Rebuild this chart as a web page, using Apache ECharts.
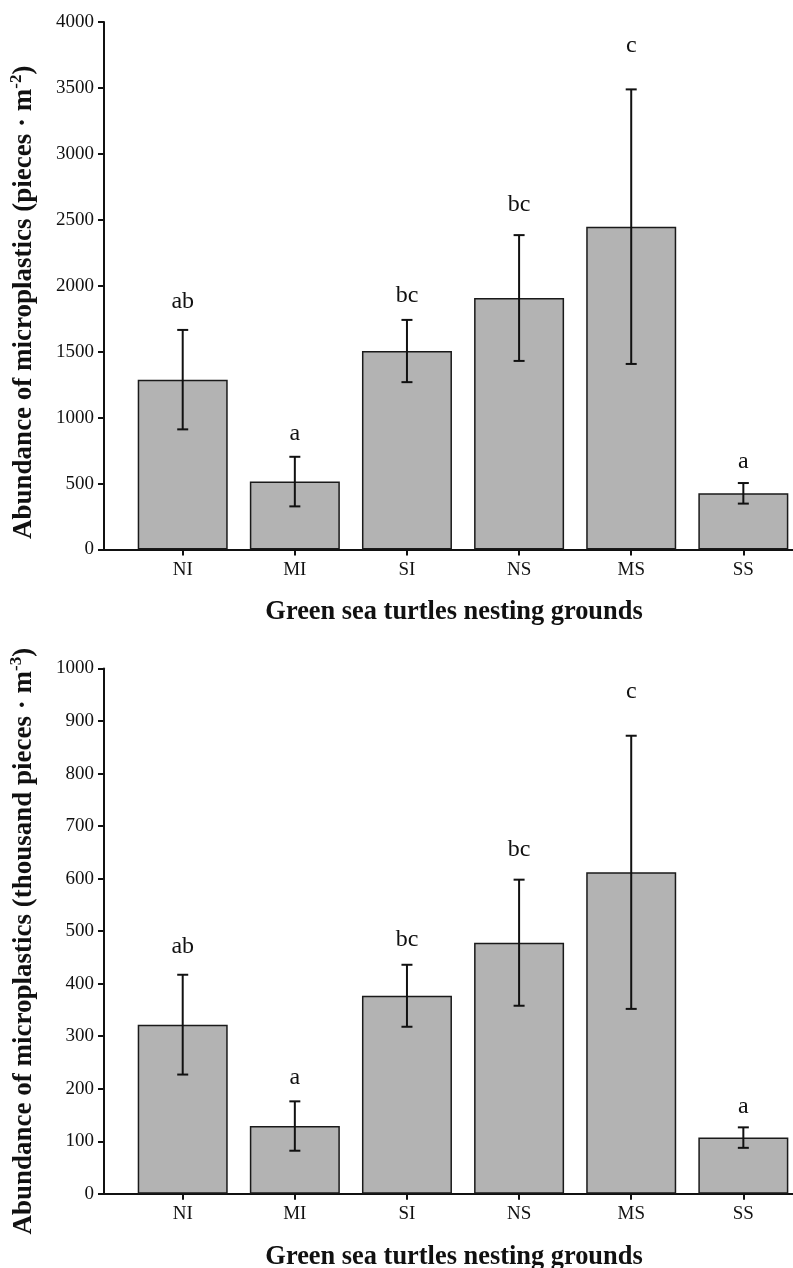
<!DOCTYPE html>
<html>
<head>
<meta charset="utf-8">
<script src="https://cdn.jsdelivr.net/npm/echarts@6/dist/echarts.min.js"></script>
<style>
html,body{margin:0;padding:0;background:#fff;}
#chart{width:793px;height:1268px;}
</style>
</head>
<body>
<div id="chart"></div>
<script>
// ---- data ----
const categories = ['NI', 'MI', 'SI', 'NS', 'MS', 'SS'];
const letters = ['ab', 'a', 'bc', 'bc', 'c', 'a'];
// areal abundance (pieces · m^-2)
const areaMean = [1288, 515, 1505, 1907, 2448, 426];
const areaSD = [377, 188, 236, 477, 1041, 78];
const areaMax = 4000, areaInterval = 500;
// volumetric abundance (thousand pieces · m^-3)
const volMean = [322, 129, 377, 478, 612, 107];
const volSD = [95, 47, 59, 120, 260, 19.5];
const volMax = 1000, volInterval = 100;

const FONT = 'Liberation Serif';
const BLACK = '#111';

const chart = echarts.init(document.getElementById('chart'), null, {renderer: 'canvas'});

function errData(mean, sd) {
  return mean.map((m, i) => [i, m - sd[i], m + sd[i]]);
}

function renderErr(params, api) {
  const x = api.value(0);
  const pLo = api.coord([x, api.value(1)]);
  const pHi = api.coord([x, api.value(2)]);
  const half = 5.5;
  const sdPx = (pLo[1] - pHi[1]) / 2;
  const off = 19 + 0.18 * sdPx;
  const lineStyle = {stroke: BLACK, lineWidth: 2};
  return {
    type: 'group',
    children: [
      {type: 'line', shape: {x1: pHi[0], y1: pHi[1], x2: pLo[0], y2: pLo[1]}, style: lineStyle},
      {type: 'line', shape: {x1: pHi[0] - half, y1: pHi[1], x2: pHi[0] + half, y2: pHi[1]}, style: lineStyle},
      {type: 'line', shape: {x1: pLo[0] - half, y1: pLo[1], x2: pLo[0] + half, y2: pLo[1]}, style: lineStyle},
      {type: 'text', x: pHi[0], y: pHi[1] - off,
        style: {text: letters[params.dataIndex], fill: BLACK, font: '24px "' + FONT + '"',
          textAlign: 'center', textVerticalAlign: 'middle'}}
    ]
  };
}

const tops = [22, 668.5];
const heights = [527.5, 525.3];
const names = [
  '{t|Abundance of microplastics (pieces · m}{s|-2}{t|)}',
  '{t|Abundance of microplastics (thousand pieces · m}{s|-3}{t|)}'
];
const namePad = [33, 20];
const means = [areaMean, volMean];
const sds = [areaSD, volSD];
const maxes = [areaMax, volMax];
const intervals = [areaInterval, volInterval];

const grid = [], xAxis = [], yAxis = [], series = [];
for (let k = 0; k < 2; k++) {
  const gA = grid.length;
  grid.push({left: 104, width: 689, top: tops[k], height: heights[k],
    containLabel: false, outerBoundsMode: 'none'});
  const gB = grid.length;
  grid.push({left: 126.65, width: 672.75, top: tops[k], height: heights[k],
    containLabel: false, outerBoundsMode: 'none'});
  // axis-line holder (full baseline from y axis to the right edge)
  xAxis.push({gridIndex: gA, type: 'value', min: 0, max: 1,
    axisLine: {show: true, lineStyle: {color: BLACK, width: 2}},
    axisTick: {show: false}, axisLabel: {show: false}, splitLine: {show: false}});
  yAxis.push({gridIndex: gA, type: 'value', show: false, min: 0, max: maxes[k]});
  // category axis
  xAxis.push({gridIndex: gB, type: 'category', data: categories,
    axisLine: {show: false},
    axisTick: {show: true, alignWithLabel: true, length: 6, lineStyle: {color: BLACK, width: 2}},
    axisLabel: {color: BLACK, fontFamily: FONT, fontSize: 19, margin: 11},
    splitLine: {show: false},
    name: 'Green sea turtles nesting grounds', nameLocation: 'middle', nameGap: 50,
    nameTextStyle: {color: BLACK, fontFamily: FONT, fontSize: 26.4, fontWeight: 'bold', padding: [0, 18, 0, 0]}});
  yAxis.push({gridIndex: gB, type: 'value', min: 0, max: maxes[k], interval: intervals[k],
    offset: 22.65,
    axisLine: {show: true, lineStyle: {color: BLACK, width: 2}},
    axisTick: {show: true, length: 6, lineStyle: {color: BLACK, width: 2}},
    axisLabel: {color: BLACK, fontFamily: FONT, fontSize: 19, margin: 10,
      formatter: v => String(v)},
    splitLine: {show: false},
    name: names[k], nameLocation: 'middle', nameGap: 64, nameRotate: 90,
    nameTextStyle: {
      padding: [0, namePad[k], 0, 0],
      rich: {
        t: {fontFamily: FONT, fontSize: 27, fontWeight: 'bold', color: BLACK, lineHeight: 32},
        s: {fontFamily: FONT, fontSize: 17, fontWeight: 'bold', color: BLACK, lineHeight: 32, verticalAlign: 'top'}
      }
    }});
  series.push({type: 'bar', xAxisIndex: 2 * k + 1, yAxisIndex: 2 * k + 1,
    data: means[k], barWidth: 90,
    itemStyle: {color: '#b3b3b3', borderColor: '#1a1a1a', borderWidth: 1.5},
    animation: false});
  series.push({type: 'custom', xAxisIndex: 2 * k + 1, yAxisIndex: 2 * k + 1,
    data: errData(means[k], sds[k]), renderItem: renderErr, animation: false, z: 5});
}

chart.setOption({animation: false, backgroundColor: '#fff', grid, xAxis, yAxis, series});
</script>
</body>
</html>
